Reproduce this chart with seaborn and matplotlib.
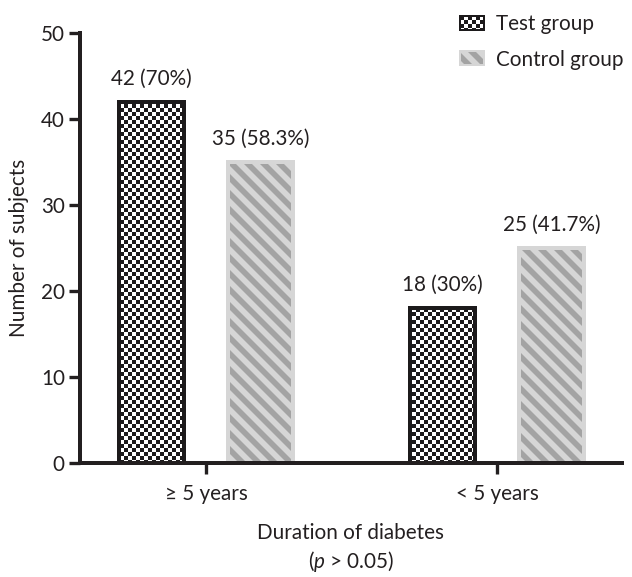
import warnings
import pandas as pd
import seaborn as sns
import matplotlib.pyplot as plt
import matplotlib.hatch as mhatch
from matplotlib.path import Path
from matplotlib.patches import Patch
from matplotlib.colors import to_rgba
warnings.filterwarnings('ignore')

# Data
durations = ['≥ 5 years', '< 5 years']
groups = ['Test group', 'Control group']
test_counts = [42, 18]
control_counts = [35, 25]
test_labels = ['42 (70%)', '18 (30%)']
control_labels = ['35 (58.3%)', '25 (41.7%)']

df = pd.DataFrame({
    'duration': durations * 2,
    'group': [groups[0]] * 2 + [groups[1]] * 2,
    'count': test_counts + control_counts,
})

TEXT = '#231f20'
LIGHT = '#d6d6d6'
STRIPE = '#a3a3a3'
FS = 15.5

SQUARE = [Path.MOVETO, Path.LINETO, Path.LINETO, Path.LINETO, Path.CLOSEPOLY]


# custom hatches: 'c' = checkerboard, 's' = thick diagonal stripes
class CheckerHatch(mhatch.HatchPatternBase):
    def __init__(self, hatch, density):
        self.n = 24 if 'c' in hatch else 0
        self.num_vertices = self.n * self.n // 2 * 5

    def set_vertices_and_codes(self, vertices, codes):
        s = 1.0 / self.n
        cells = [(i * s, j * s) for i in range(self.n) for j in range(self.n)
                 if (i + j) % 2 == 0]
        for k, (x, y) in enumerate(cells):
            vertices[5 * k:5 * k + 5] = [(x, y), (x + s, y), (x + s, y + s), (x, y + s), (x, y)]
            codes[5 * k:5 * k + 5] = SQUARE


class StripeHatch(mhatch.HatchPatternBase):
    def __init__(self, hatch, density):
        self.offsets = [k / 6 for k in range(-1, 13)] if 's' in hatch else []
        self.num_vertices = len(self.offsets) * 5

    def set_vertices_and_codes(self, vertices, codes):
        w = 1 / 12
        for k, c in enumerate(self.offsets):
            vertices[5 * k:5 * k + 5] = [(0, c), (0, c + w), (1, c + w - 1), (1, c - 1), (0, c)]
            codes[5 * k:5 * k + 5] = SQUARE


mhatch._hatch_types += [CheckerHatch, StripeHatch]

sns.set_theme(style='ticks')
plt.rcParams['font.family'] = ['Lato', 'DejaVu Sans']
plt.rcParams['mathtext.fontset'] = 'custom'
plt.rcParams['mathtext.rm'] = 'Lato'
plt.rcParams['mathtext.it'] = 'Lato:italic'
plt.rcParams['hatch.linewidth'] = 0.0
plt.rcParams['text.color'] = TEXT
plt.rcParams['axes.labelcolor'] = TEXT

fig = plt.figure(figsize=(632 / 96, 577 / 96), dpi=96)
ax = fig.add_axes([0.1258, 0.1976, 0.8584, 0.7452])

sns.barplot(data=df, x='duration', y='count', hue='group', order=durations,
            hue_order=groups, width=0.75, gap=0.4, ax=ax, legend=False)

for bar in ax.containers[0]:
    bar.set(facecolor='white', edgecolor='#1c1a1b', linewidth=3, hatch='c')
for bar in ax.containers[1]:
    bar.set(facecolor=LIGHT, edgecolor=LIGHT, linewidth=3, hatch='s')
    bar._hatch_color = to_rgba(STRIPE)

ax.bar_label(ax.containers[0], labels=test_labels, padding=10, fontsize=FS, color=TEXT)
ax.bar_label(ax.containers[1], labels=control_labels, padding=10, fontsize=FS, color=TEXT)

ax.set_ylim(0, 50)
ax.set_yticks(range(0, 51, 10))
ax.set_xlim(-0.435, 1.43)
sns.despine(ax=ax)
for side in ['left', 'bottom']:
    ax.spines[side].set_linewidth(3)
    ax.spines[side].set_color(TEXT)
ax.tick_params(axis='both', length=8, width=2.5, color=TEXT, labelsize=FS, labelcolor=TEXT)
ax.tick_params(axis='y', pad=3)
ax.tick_params(axis='x', pad=8)

ax.set_ylabel('Number of subjects', fontsize=FS, labelpad=9)
ax.set_xlabel('Duration of diabetes\n($\\it{p}$ > 0.05)', fontsize=FS, labelpad=14,
              linespacing=1.3)

# legend
test_patch = Patch(facecolor='white', edgecolor='#1c1a1b', linewidth=1.5, hatch='c')
ctrl_patch = Patch(facecolor=LIGHT, edgecolor=LIGHT, linewidth=1.5, hatch='s')
ctrl_patch._hatch_color = to_rgba(STRIPE)
fig.legend([test_patch, ctrl_patch], groups, loc='upper left',
           bbox_to_anchor=(460 / 632, 1 - 14 / 577), frameon=False, fontsize=FS,
           borderpad=0, borderaxespad=0, handlelength=1.15, handleheight=0.68,
           handletextpad=0.6, labelspacing=0.75)

fig.savefig('out.png', dpi=96)
